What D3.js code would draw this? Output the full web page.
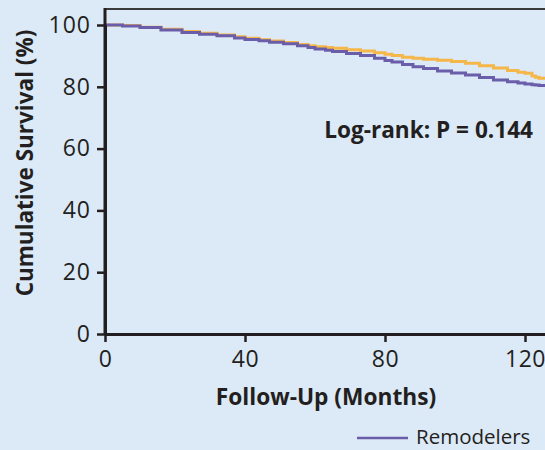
<!DOCTYPE html>
<html><head><meta charset="utf-8">
<script src="https://cdn.jsdelivr.net/npm/d3@7"></script>
<style>
html,body{margin:0;padding:0;background:#dce9f6;overflow:hidden;}
svg{display:block;}
</style></head>
<body>
<script>
// Data
const months = [0,5,10,16,22,27,32,37,40,44,47,51,55,58,60,63,65,69,73,77,80,82,85,88,91,95,99,103,107,111,115,118,120,122,123,124,126];
const remodelers = [100,99.7,99.2,98.4,97.6,97.0,96.5,95.8,95.3,94.9,94.4,93.9,93.3,92.7,92.2,91.8,91.4,90.8,90.1,89.2,88.5,88.0,87.2,86.5,85.9,85.1,84.5,83.8,83.0,82.2,81.6,81.2,80.9,80.7,80.6,80.4,80.1];
const nonRemodelers = [100,99.8,99.3,98.6,97.9,97.3,96.8,96.2,95.7,95.2,94.8,94.3,93.7,93.3,93.0,92.7,92.5,92.0,91.6,91.0,90.5,90.1,89.6,89.2,88.9,88.6,88.2,87.6,86.8,86.1,85.3,84.7,84.4,83.5,83.1,82.8,82.5];
const xTicks = [0,40,80,120];
const yTicks = [0,20,40,60,80,100];
const seriesNames = ["Remodelers","Nonremodelers"];
const seriesColors = ["#6a5eab","#f6b74a"];
const annotation = "Log-rank: P = 0.144";
const xTitle = "Follow-Up (Months)";
const yTitle = "Cumulative Survival (%)";

const W = 545, H = 450;
const svg = d3.select("body").append("svg").attr("width",W).attr("height",H);
svg.append("rect").attr("width",W).attr("height",H).attr("fill","#dce9f6");

const x = d3.scaleLinear().domain([0,126]).range([105,546]);
const y = d3.scaleLinear().domain([0,100]).range([334,25]);
const font = "'Open Sans', 'Noto Sans', sans-serif";
const ink = "#231f20";

// top border
svg.append("line").attr("x1",105).attr("x2",W).attr("y1",9).attr("y2",9)
  .attr("stroke","#3a3a3a").attr("stroke-width",2);

// curves
const line = d3.line().x((d,i)=>x(months[i])).y(d=>y(d)).curve(d3.curveStepAfter);
svg.append("path").datum(nonRemodelers).attr("d",line).attr("fill","none")
  .attr("stroke",seriesColors[1]).attr("stroke-width",3);
svg.append("path").datum(remodelers).attr("d",line).attr("fill","none")
  .attr("stroke",seriesColors[0]).attr("stroke-width",3);

// axes
const xa = svg.append("g").attr("transform","translate(0,334)")
  .call(d3.axisBottom(x).tickValues(xTicks).tickSize(8).tickSizeOuter(0).tickPadding(9));
const ya = svg.append("g").attr("transform","translate(105,0)")
  .call(d3.axisLeft(y).tickValues(yTicks).tickSize(8).tickSizeOuter(0).tickPadding(6));
[xa,ya].forEach(g=>{
  g.select(".domain").attr("stroke",ink).attr("stroke-width",3);
  g.selectAll(".tick line").attr("stroke",ink).attr("stroke-width",2.5);
  g.selectAll(".tick text").attr("fill",ink).style("font-family",font)
    .style("font-size","23px");
});
ya.selectAll(".tick text").style("letter-spacing","1px");
xa.selectAll(".tick text").style("letter-spacing","0.5px");
// extend y-axis line to top border
svg.append("line").attr("x1",105).attr("x2",105).attr("y1",8).attr("y2",334)
  .attr("stroke",ink).attr("stroke-width",3);

// titles
svg.append("text").attr("x",326).attr("y",405).attr("text-anchor","middle")
  .attr("fill",ink).style("font-family",font).style("font-weight",700).style("font-size","22.7px")
  .text(xTitle);
svg.append("text").attr("transform","translate(33,163) rotate(-90)").attr("text-anchor","middle")
  .attr("fill",ink).style("font-family",font).style("font-weight",700).style("font-size","22.5px")
  .text(yTitle);
svg.append("text").attr("x",533).attr("y",138).attr("text-anchor","end")
  .attr("fill",ink).style("font-family",font).style("font-weight",700).style("font-size","22.6px")
  .text(annotation);

// legend
svg.append("line").attr("x1",357).attr("x2",408).attr("y1",438).attr("y2",438)
  .attr("stroke",seriesColors[0]).attr("stroke-width",2.5);
svg.append("text").attr("x",416).attr("y",444).attr("fill",ink)
  .style("font-family",font).style("font-size","20.5px").text(seriesNames[0]);
</script>
</body></html>
